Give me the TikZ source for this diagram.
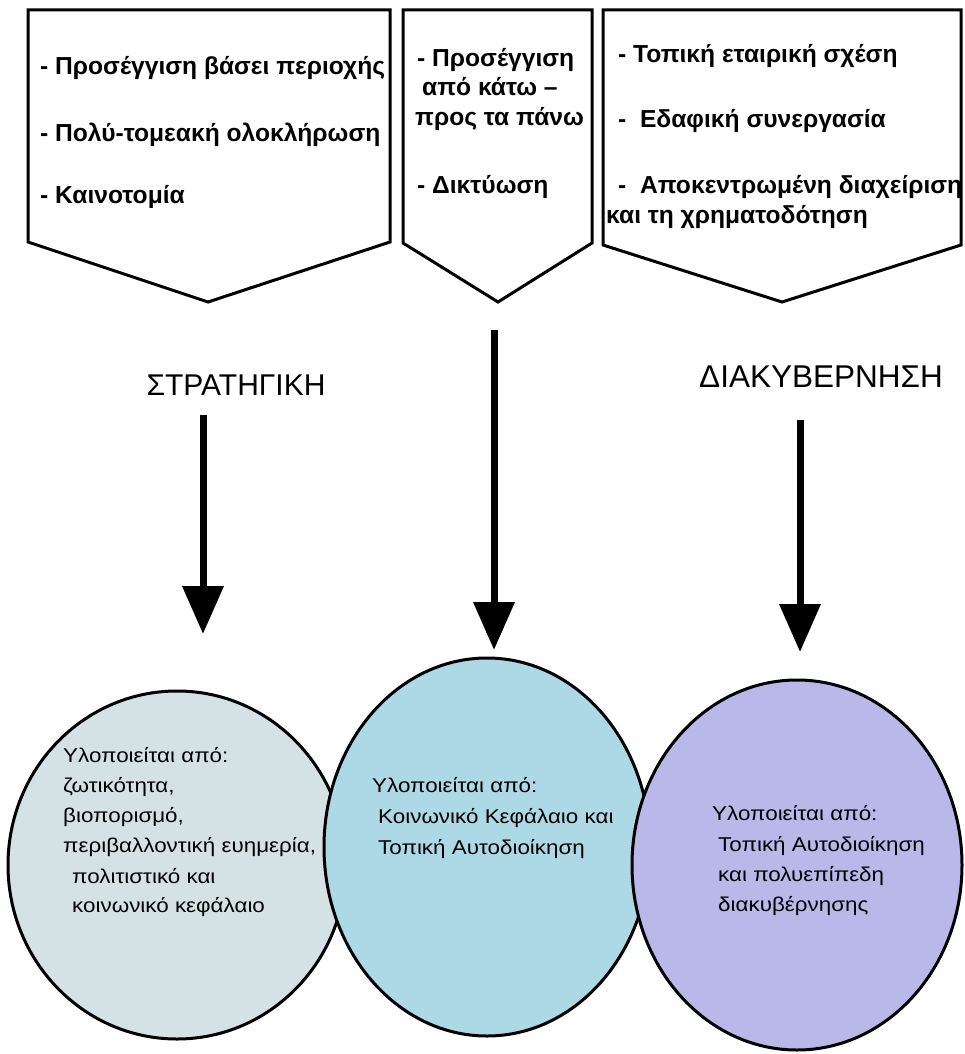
\documentclass[tikz,border=0pt]{standalone}
\usepackage{fontspec}
\setmainfont{Liberation Sans}
\newfontfamily\widesans[FakeStretch=1.12]{Liberation Sans}
\usetikzlibrary{arrows.meta,shapes.geometric}
\definecolor{cleft}{RGB}{213,226,229}
\definecolor{cmid}{RGB}{173,216,230}
\definecolor{cright}{RGB}{185,184,233}
\begin{document}
\begin{tikzpicture}[x=1pt,y=-1pt,
  pent/.style={draw=black, line width=3pt, fill=white, line join=miter},
  btxt/.style={font=\fontsize{24.6}{28}\selectfont\bfseries, anchor=base west, inner sep=0pt},
  ctxt/.style={font=\widesans\fontsize{20}{24}\selectfont, anchor=base west, inner sep=0pt},
  lbl/.style={font=\fontsize{30}{34}\selectfont, anchor=base, inner sep=0pt},
  bigarrow/.style={line width=7pt, -{Triangle[length=48pt,width=40pt]}},
  circ/.style={ellipse, draw=black, line width=3pt, inner sep=0pt}]
\useasboundingbox (0,0) rectangle (965,1054);

% top pentagons
\draw[pent] (28,10) -- (390,10) -- (390,242) -- (208,302) -- (28,242) -- cycle;
\draw[pent] (403,10) -- (592,10) -- (592,243) -- (498,302) -- (403,243) -- cycle;
\draw[pent] (603,10) -- (961,10) -- (961,245) -- (782,302) -- (603,245) -- cycle;

\node[btxt] (p1a) at (40,75) {- Προσέγγιση βάσει περιοχής};
\node[btxt] (p1b) at (40,142) {- Πολύ-τομεακή ολοκλήρωση};
\node[btxt] (p1c) at (40,203) {- Καινοτομία};

\node[btxt] (p2a) at (417,67) {- Προσέγγιση};
\node[btxt] (p2b) at (422,96) {από κάτω –};
\node[btxt] (p2c) at (415,125) {προς τα πάνω};
\node[btxt] (p2d) at (417,193) {- Δικτύωση};

\node[btxt] (p3a) at (618,63) {- Τοπική εταιρική σχέση};
\node[btxt] (p3b) at (618,128) {-\ \ Εδαφική συνεργασία};
\node[btxt] (p3c) at (618,193) {-\ \ Αποκεντρωμένη διαχείριση};
\node[btxt] (p3d) at (606,223) {και τη χρηματοδότηση};

% labels
\node[lbl] (strat) at (236,395) {ΣΤΡΑΤΗΓΙΚΗ};
\node[lbl, font=\fontsize{31.5}{35}\selectfont] (gov) at (821,387) {ΔΙΑΚΥΒΕΡΝΗΣΗ};

% circles
\node[circ, fill=cleft, minimum width=338pt, minimum height=348pt] (c1) at (177,865) {};
\node[circ, fill=cmid, minimum width=326pt, minimum height=378pt] (c2) at (487,847) {};
\node[circ, fill=cright, minimum width=330pt, minimum height=370pt] (c3) at (797,865) {};

% arrows
\coordinate (a1s) at (203,415);
\coordinate (a1e) at (203,634);
\coordinate (a2s) at (494,330);
\coordinate (a2e) at (494,650);
\coordinate (a3s) at (800,420);
\coordinate (a3e) at (800,652);
\draw[bigarrow] (a1s) -- (a1e);
\draw[bigarrow] (a2s) -- (a2e);
\draw[bigarrow] (a3s) -- (a3e);

% circle texts
\node[ctxt] (t1a) at (63,762) {Υλοποιείται από:};
\node[ctxt] (t1b) at (63,792) {ζωτικότητα,};
\node[ctxt] (t1c) at (63,822) {βιοπορισμό,};
\node[ctxt] (t1d) at (63,852) {περιβαλλοντική ευημερία,};
\node[ctxt] (t1e) at (72,883) {πολιτιστικό και};
\node[ctxt] (t1f) at (72,912) {κοινωνικό κεφάλαιο};

\node[ctxt] (t2a) at (372,792) {Υλοποιείται από:};
\node[ctxt] (t2b) at (378,823) {Κοινωνικό Κεφάλαιο και};
\node[ctxt] (t2c) at (378,854) {Τοπική Αυτοδιοίκηση};

\node[ctxt] (t3a) at (712,820) {Υλοποιείται από:};
\node[ctxt] (t3b) at (718,851) {Τοπική Αυτοδιοίκηση};
\node[ctxt] (t3c) at (718,881) {και πολυεπίπεδη};
\node[ctxt] (t3d) at (718,911) {διακυβέρνησης};
\end{tikzpicture}
\end{document}
